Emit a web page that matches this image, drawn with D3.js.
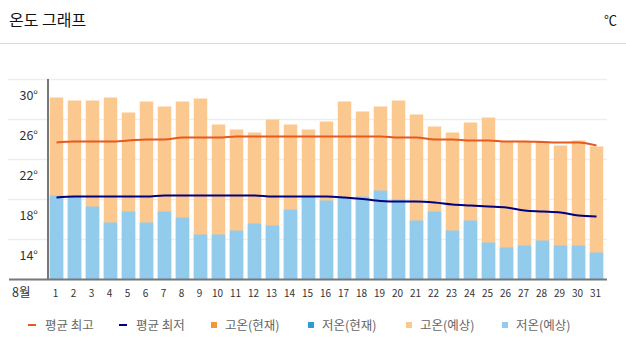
<!DOCTYPE html>
<html>
<head>
<meta charset="utf-8">
<script src="https://cdn.jsdelivr.net/npm/d3@7"></script>
<style>
  body { margin: 0; background: #fff; }
  svg { display: block; font-family: "Noto Sans CJK KR", "Noto Sans", sans-serif; }
</style>
</head>
<body>
<svg id="chart" width="626" height="353"></svg>
<script>
// August days
const days = [1,2,3,4,5,6,7,8,9,10,11,12,13,14,15,16,17,18,19,20,21,22,23,24,25,26,27,28,29,30,31];

// forecast highs / lows (bars)
const highForecast = [30.2,29.9,29.9,30.2,28.7,29.8,29.3,29.8,30.1,27.5,27.0,26.7,28.0,27.5,27.0,27.8,29.8,28.8,29.3,29.9,28.5,27.3,26.7,27.7,28.2,25.8,25.8,25.8,25.4,25.9,25.3];
const lowForecast  = [20.4,20.3,19.3,17.7,18.8,17.7,18.8,18.2,16.5,16.5,16.9,17.6,17.4,19.0,20.3,19.9,20.2,20.3,20.9,20.0,17.9,18.8,16.9,17.9,15.7,15.2,15.4,15.9,15.4,15.4,14.7];

// normal (average) highs / lows (lines)
const avgHigh = [25.7,25.8,25.8,25.8,25.9,26.0,26.0,26.2,26.2,26.2,26.3,26.3,26.3,26.3,26.3,26.3,26.3,26.3,26.3,26.2,26.2,26.0,26.0,25.9,25.9,25.8,25.8,25.75,25.7,25.7,25.4];
const avgLow  = [20.2,20.3,20.3,20.3,20.3,20.3,20.4,20.4,20.4,20.4,20.4,20.4,20.3,20.3,20.3,20.3,20.2,20.05,19.85,19.8,19.8,19.7,19.5,19.4,19.3,19.2,18.9,18.8,18.7,18.4,18.3];

const gridTicks = [12,16,20,24,28,32];
const labelTicks = [14,18,22,26,30];

const legendItems = [
  { label: '평균 최고', type: 'line', color: '#e8591f' },
  { label: '평균 최저', type: 'line', color: '#000080' },
  { label: '고온(현재)', type: 'rect', color: '#f5943a' },
  { label: '저온(현재)', type: 'rect', color: '#2d9ad9' },
  { label: '고온(예상)', type: 'rect', color: '#fbc98f' },
  { label: '저온(예상)', type: 'rect', color: '#93cbec' }
];

const svg = d3.select('#chart');

// header
svg.append('text')
  .attr('x', 9).attr('y', 26)
  .style('font-size', '16px').style('fill', '#111')
  .text('온도 그래프');
svg.append('text')
  .attr('x', 617).attr('y', 25)
  .attr('text-anchor', 'end')
  .style('font-size', '13px').style('fill', '#111')
  .text('℃');
svg.append('line')
  .attr('x1', 0).attr('x2', 626)
  .attr('y1', 43.5).attr('y2', 43.5)
  .attr('stroke', '#dcdcdc');

// scales
const x = d3.scaleBand()
  .domain(days)
  .range([47.5, 605.5])
  .paddingInner(0.25)
  .paddingOuter(0.125);

const y = d3.scaleLinear()
  .domain([12, 32])
  .range([279.5, 79.5]);

// grid
svg.append('g').selectAll('line')
  .data(gridTicks.slice(1))
  .enter()
  .append('line')
  .attr('x1', 8).attr('x2', 607)
  .attr('y1', d => y(d)).attr('y2', d => y(d))
  .attr('stroke', '#eeeeee')
  .attr('stroke-width', 1.5);

// y labels
svg.append('g').selectAll('text')
  .data(labelTicks)
  .enter()
  .append('text')
  .attr('x', 38)
  .attr('y', d => y(d))
  .attr('text-anchor', 'end')
  .style('font-size', '12.5px')
  .style('fill', '#333')
  .text(d => d + '°');

// bars
svg.append('g').selectAll('rect')
  .data(days)
  .enter()
  .append('rect')
  .attr('x', d => x(d))
  .attr('width', x.bandwidth())
  .attr('y', (d, i) => y(highForecast[i]))
  .attr('height', (d, i) => y(12) - y(highForecast[i]))
  .attr('fill', '#fbc98f');

svg.append('g').selectAll('rect')
  .data(days)
  .enter()
  .append('rect')
  .attr('x', d => x(d))
  .attr('width', x.bandwidth())
  .attr('y', (d, i) => y(lowForecast[i]))
  .attr('height', (d, i) => y(12) - y(lowForecast[i]))
  .attr('fill', '#93cbec');

// average lines
const line = d3.line()
  .x((d, i) => x(days[i]) + x.bandwidth() / 2)
  .y(d => y(d))
  .curve(d3.curveMonotoneX);

svg.append('path')
  .datum(avgHigh)
  .attr('d', line)
  .attr('fill', 'none')
  .attr('stroke', '#e8591f')
  .attr('stroke-width', 2);

svg.append('path')
  .datum(avgLow)
  .attr('d', line)
  .attr('fill', 'none')
  .attr('stroke', '#000080')
  .attr('stroke-width', 2);

// axes lines
svg.append('line')
  .attr('x1', 48).attr('x2', 48)
  .attr('y1', 79).attr('y2', 280)
  .attr('stroke', '#777').attr('stroke-width', 2);
svg.append('line')
  .attr('x1', 9).attr('x2', 607)
  .attr('y1', 279.5).attr('y2', 279.5)
  .attr('stroke', '#777').attr('stroke-width', 2);

// x labels
svg.append('text')
  .attr('x', 12).attr('y', 297)
  .style('font-size', '12.5px').style('fill', '#333')
  .text('8월');

svg.append('g').selectAll('text')
  .data(days)
  .enter()
  .append('text')
  .attr('x', d => x(d) + x.bandwidth() / 2 - 1)
  .attr('y', 296.5)
  .attr('text-anchor', 'middle')
  .style('font-size', '10px')
  .style('fill', '#333')
  .text(d => d);

// legend
const legendX = [28, 119, 210, 307, 405, 501];
const legend = svg.append('g');
legendItems.forEach((item, i) => {
  const g = legend.append('g').attr('transform', `translate(${legendX[i]}, 325)`);
  if (item.type === 'line') {
    g.append('rect').attr('x', 0).attr('y', -1).attr('width', 8).attr('height', 2).attr('fill', item.color);
    g.append('text').attr('x', 17).attr('y', 4.5)
      .style('font-size', '12.5px').style('fill', '#666').text(item.label);
  } else {
    g.append('rect').attr('x', 1).attr('y', -3).attr('width', 6).attr('height', 6).attr('fill', item.color);
    g.append('text').attr('x', 15).attr('y', 4.5)
      .style('font-size', '12.5px').style('fill', '#666').text(item.label);
  }
});
</script>
</body>
</html>
